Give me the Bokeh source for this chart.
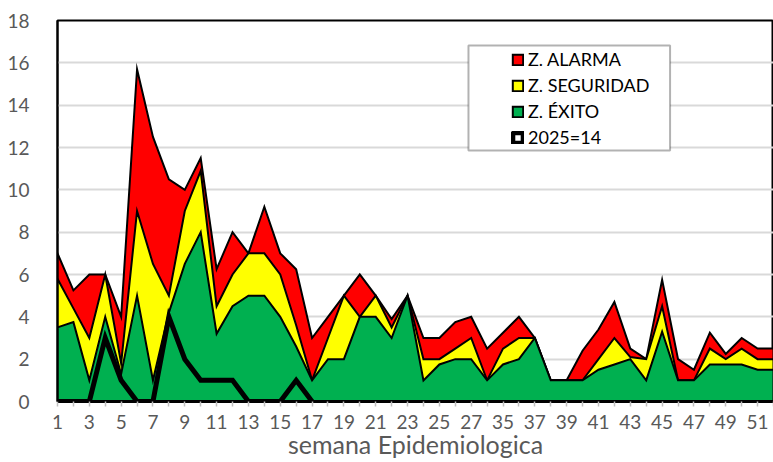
from bokeh.plotting import figure
from bokeh.models import Range1d, FixedTicker, Legend, LegendItem, BoxAnnotation
from bokeh.embed import file_html
from bokeh.resources import INLINE

# ---- data ----
weeks = [1, 2, 3, 4, 5, 6, 7, 8, 9, 10, 11, 12, 13, 14, 15, 16, 17, 18, 19, 20,
         21, 22, 23, 24, 25, 26, 27, 34, 35, 36, 37, 38, 39, 40, 41, 42, 43, 44,
         45, 46, 47, 48, 49, 50, 51, 52]

z_alarma = [7.0, 5.25, 6.0, 6.0, 4.0, 15.7, 12.5, 10.5, 10.0, 11.5, 6.25, 8.0,
            7.0, 9.2, 7.0, 6.25, 3.0, 4.0, 5.0, 6.0, 5.0, 3.9, 5.0, 3.0, 3.0,
            3.75, 4.0, 2.5, 3.25, 4.0, 3.0, 1.0, 1.0, 2.4, 3.4, 4.7, 2.5, 2.0,
            5.75, 2.0, 1.5, 3.25, 2.25, 3.0, 2.5, 2.5]

z_seguridad = [5.8, 4.4, 3.0, 6.0, 1.8, 9.0, 6.5, 5.0, 9.0, 10.9, 4.5, 6.0,
               7.0, 7.0, 6.0, 3.6, 1.0, 3.0, 5.0, 4.0, 5.0, 3.5, 5.0, 2.0, 2.0,
               2.5, 3.0, 1.0, 2.5, 3.0, 3.0, 1.0, 1.0, 1.0, 2.0, 3.0, 2.1, 2.0,
               4.5, 1.0, 1.0, 2.5, 2.0, 2.5, 2.0, 2.0]

z_exito = [3.5, 3.75, 1.0, 4.0, 1.3, 5.0, 1.0, 4.2, 6.5, 8.0, 3.2, 4.5,
           5.0, 5.0, 4.0, 2.6, 1.0, 2.0, 2.0, 4.0, 4.0, 3.0, 5.0, 1.0, 1.75,
           2.0, 2.0, 1.0, 1.75, 2.0, 3.0, 1.0, 1.0, 1.0, 1.5, 1.75, 2.0, 1.0,
           3.3, 1.0, 1.0, 1.75, 1.75, 1.75, 1.5, 1.5]

casos_2025 = [0, 0, 0, 3, 1, 0, 0, 4, 2, 1, 1, 1, 0, 0, 0, 1, 0]

y_ticks = [0, 2, 4, 6, 8, 10, 12, 14, 16, 18]

# ---- figure ----
idx = list(range(len(weeks)))
idx_2025 = idx[:len(casos_2025)]
FONT = "Lato"
GRAY_TXT = "#595959"

p = figure(width=773, height=462, output_backend="svg", toolbar_location=None,
           x_range=Range1d(0, 45), y_range=Range1d(0, 18),
           min_border_left=57, min_border_right=0, min_border_top=20,
           min_border_bottom=61)
p.outline_line_color = "black"
p.outline_line_width = 2
p.background_fill_color = "white"
p.xgrid.grid_line_color = None
p.ygrid.grid_line_color = "#d9d9d9"
p.ygrid.grid_line_width = 2
p.ygrid.ticker = FixedTicker(ticks=y_ticks)


def area(vals, color):
    xs = idx + [idx[-1], idx[0]]
    ys = list(vals) + [0, 0]
    return p.patch(xs, ys, fill_color=color, line_color="black", line_width=2,
                   line_join="miter")


r_red = area(z_alarma, "#FF0000")
r_yel = area(z_seguridad, "#FFFF00")
r_grn = area(z_exito, "#00B050")
p.line(idx_2025, casos_2025, line_color="black", line_width=5,
       line_join="miter")
# hidden renderer used only for the legend symbol of the 2025 series
r_sq = p.block(x=idx_2025, y=0, width=1, height=casos_2025,
               fill_color="white", line_color="black", line_width=5,
               visible=False)

# axes
p.yaxis.ticker = FixedTicker(ticks=y_ticks)
p.yaxis.axis_line_color = "black"
p.yaxis.axis_line_width = 2
p.yaxis.major_tick_line_color = None
p.yaxis.minor_tick_line_color = None
p.yaxis.major_label_standoff = 22
p.yaxis.major_label_text_font = FONT
p.yaxis.major_label_text_font_size = "19px"
p.yaxis.major_label_text_color = GRAY_TXT

p.xaxis.ticker = FixedTicker(ticks=idx)
p.xaxis.major_label_overrides = {i: (str(w) if i % 2 == 0 else "")
                                 for i, w in zip(idx, weeks)}
p.xaxis.axis_line_color = "black"
p.xaxis.axis_line_width = 3
p.xaxis.major_tick_line_color = "#bfbfbf"
p.xaxis.major_tick_line_width = 1.5
p.xaxis.major_tick_in = 0
p.xaxis.major_tick_out = 5
p.xaxis.minor_tick_line_color = None
p.xaxis.major_label_standoff = 8
p.xaxis.major_label_text_font = FONT
p.xaxis.major_label_text_font_size = "19px"
p.xaxis.major_label_text_color = GRAY_TXT
p.xaxis.axis_label = "semana Epidemiologica"
p.xaxis.axis_label_text_font = FONT
p.xaxis.axis_label_text_font_size = "25px"
p.xaxis.axis_label_text_font_style = "normal"
p.xaxis.axis_label_text_color = GRAY_TXT
p.xaxis.axis_label_standoff = -3

# legend frame
box = BoxAnnotation(left=25.83, right=38.5, bottom=11.86, top=16.82,
                    fill_color="white", fill_alpha=1.0,
                    line_color="black", line_width=2)
p.add_layout(box)

legend = Legend(items=[
    LegendItem(label="Z. ALARMA", renderers=[r_red]),
    LegendItem(label="Z. SEGURIDAD", renderers=[r_yel]),
    LegendItem(label="Z. ÉXITO", renderers=[r_grn]),
    LegendItem(label="2025=14", renderers=[r_sq]),
], location=(454, 253), padding=0, margin=0, border_line_color=None,
    background_fill_alpha=0, glyph_width=13, glyph_height=13,
    label_standoff=4, spacing=4, label_height=20,
    label_text_font=FONT, label_text_font_size="18px",
    label_text_color="black")
p.add_layout(legend)

open("out.html", "w").write(file_html(p, INLINE))
